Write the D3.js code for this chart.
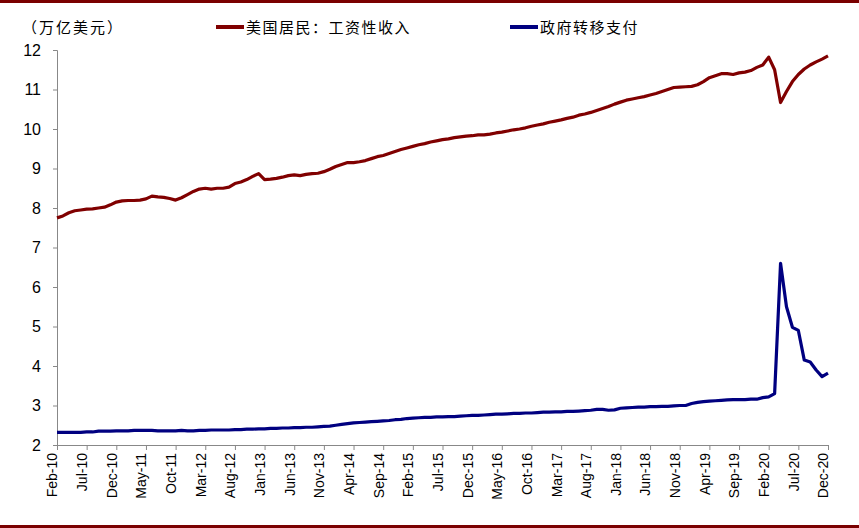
<!DOCTYPE html><html><head><meta charset="utf-8">
<script src="https://cdn.jsdelivr.net/npm/d3@7"></script>
<style>body{margin:0;background:#fff}svg{font-family:Arial,"Liberation Sans",sans-serif}</style></head><body>
<svg id="c" width="859" height="528"></svg>
<script>
const startYear = 2010, startMonth = 1; // Feb-10
const wages = [7.75,7.8,7.88,7.93,7.95,7.97,7.98,8.0,8.02,8.08,8.15,
 8.18,8.19,8.19,8.2,8.23,8.3,8.28,8.27,8.24,8.2,8.26,8.34,
 8.42,8.48,8.5,8.48,8.5,8.5,8.53,8.62,8.66,8.72,8.8,8.87,
 8.72,8.73,8.75,8.78,8.82,8.84,8.82,8.85,8.87,8.88,8.92,8.98,
 9.05,9.1,9.15,9.15,9.17,9.2,9.25,9.3,9.33,9.38,9.43,9.48,
 9.52,9.56,9.6,9.63,9.67,9.7,9.73,9.75,9.78,9.8,9.82,9.83,
 9.85,9.85,9.87,9.9,9.92,9.95,9.98,10.0,10.03,10.07,10.1,10.13,
 10.17,10.2,10.23,10.27,10.3,10.35,10.38,10.42,10.47,10.52,10.57,10.63,
 10.68,10.73,10.76,10.79,10.82,10.86,10.9,10.95,11.0,11.05,11.06,11.07,
 11.08,11.12,11.2,11.3,11.35,11.4,11.4,11.38,11.42,11.44,11.48,11.56,
 11.62,11.82,11.5,10.67,10.95,11.2,11.38,11.52,11.62,11.7,11.77,11.85];
const transfers = [2.32,2.32,2.32,2.32,2.32,2.33,2.33,2.35,2.35,2.35,2.36,
 2.36,2.36,2.37,2.37,2.37,2.37,2.36,2.36,2.36,2.36,2.37,2.36,
 2.36,2.37,2.37,2.38,2.38,2.38,2.38,2.39,2.39,2.4,2.4,2.41,
 2.41,2.42,2.42,2.43,2.43,2.44,2.44,2.45,2.45,2.46,2.47,2.48,
 2.5,2.52,2.54,2.56,2.57,2.58,2.59,2.6,2.61,2.62,2.64,2.65,
 2.67,2.68,2.69,2.7,2.7,2.71,2.71,2.72,2.72,2.73,2.74,2.75,
 2.75,2.76,2.77,2.78,2.78,2.79,2.8,2.8,2.81,2.81,2.82,2.83,
 2.83,2.84,2.84,2.85,2.85,2.86,2.87,2.88,2.9,2.9,2.88,2.89,
 2.93,2.94,2.95,2.96,2.96,2.97,2.97,2.98,2.98,2.99,3.0,3.0,
 3.05,3.08,3.1,3.11,3.12,3.13,3.14,3.15,3.15,3.15,3.16,3.16,
 3.2,3.22,3.3,6.6,5.5,4.98,4.9,4.15,4.1,3.9,3.73,3.82];
const yTicks = [2,3,4,5,6,7,8,9,10,11,12];
const seriesNames = ["美国居民：工资性收入","政府转移支付"];
const colors = ["#800000","#000080"];
const mon = ["Jan","Feb","Mar","Apr","May","Jun","Jul","Aug","Sep","Oct","Nov","Dec"];
const labels = wages.map((d,i)=>{const m=(startMonth+i)%12,y=startYear+Math.floor((startMonth+i)/12);return mon[m]+"-"+String(y%100).padStart(2,"0");});

const svg = d3.select("#c");
svg.append("rect").attr("x",0).attr("y",0).attr("width",859).attr("height",3).attr("fill","#7a0000");
svg.append("rect").attr("x",0).attr("y",525).attr("width",859).attr("height",3).attr("fill","#7a0000");
const x = d3.scaleLinear().domain([0,wages.length-1]).range([57,828]);
const y = d3.scaleLinear().domain([2,12]).range([445,50]);
const ya = svg.append("g").attr("transform","translate(57,0)").call(d3.axisLeft(y).tickValues(yTicks).tickSize(4).tickFormat(d3.format("d")));
ya.selectAll("text").attr("font-size",16).attr("fill","#000").attr("x",-16);
ya.selectAll("line").attr("stroke","#888"); ya.select(".domain").attr("stroke","#888");
const tickIdx = d3.range(0,wages.length,5);
const xa = svg.append("g").attr("transform","translate(0,445)").call(d3.axisBottom(x).tickValues(tickIdx).tickSize(5).tickSizeOuter(0).tickFormat(i=>labels[i]));
xa.selectAll("line").attr("stroke","#888"); xa.select(".domain").attr("stroke","#888");
xa.selectAll("text").attr("font-size",14).attr("fill","#000").attr("transform","rotate(-90)").attr("text-anchor","end").attr("x",-8).attr("y",-5).attr("dy","0.35em");
const line = d3.line().x((d,i)=>x(i)).y(d=>y(d));
[wages,transfers].forEach((s,k)=>svg.append("path").datum(s).attr("d",line).attr("fill","none").attr("stroke",colors[k]).attr("stroke-width",3.2).attr("stroke-linejoin","round"));
svg.append("text").attr("x",22).attr("y",33).attr("font-size",15).attr("font-family","Noto Sans CJK SC").attr("letter-spacing",2).text("（万亿美元）");
[[216,seriesNames[0]],[510,seriesNames[1]]].forEach(([lx,t],k)=>{
 svg.append("line").attr("x1",lx).attr("x2",lx+28).attr("y1",27).attr("y2",27).attr("stroke",colors[k]).attr("stroke-width",4);
 svg.append("text").attr("x",lx+30).attr("y",33).attr("font-size",15).attr("font-family","Noto Sans CJK SC").attr("letter-spacing",1.5).text(t);
});
</script></body></html>
